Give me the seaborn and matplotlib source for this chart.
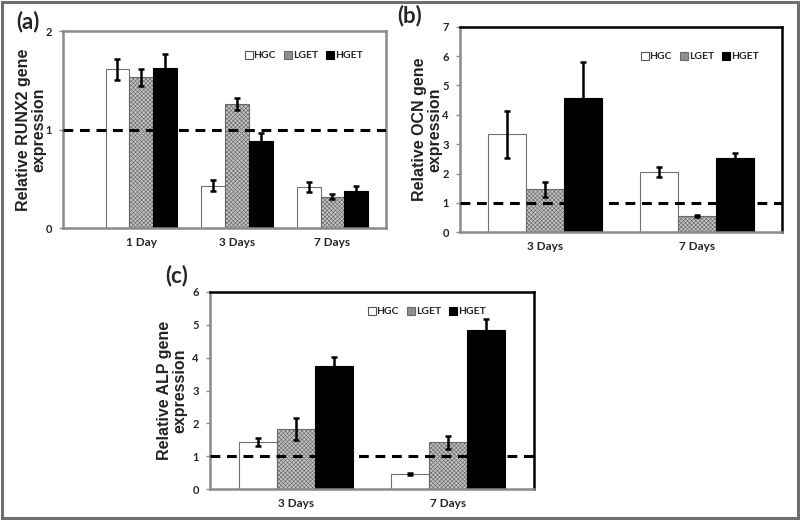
import matplotlib
matplotlib.use("Agg")
import matplotlib.pyplot as plt
from matplotlib.patches import Rectangle
from matplotlib.lines import Line2D
import seaborn as sns
import pandas as pd

# ---- data ----
groups = ["HGC", "LGET", "HGET"]

runx2_days = ["1 Day", "3 Days", "7 Days"]
runx2_hgc = [1.61, 0.43, 0.42]
runx2_lget = [1.53, 1.26, 0.32]
runx2_hget = [1.62, 0.89, 0.38]
runx2_hgc_err = [0.105, 0.055, 0.047]
runx2_lget_err = [0.085, 0.06, 0.025]
runx2_hget_err = [0.15, 0.08, 0.047]

ocn_days = ["3 Days", "7 Days"]
ocn_hgc = [3.34, 2.05]
ocn_lget = [1.46, 0.56]
ocn_hget = [4.58, 2.52]
ocn_hgc_err = [0.80, 0.17]
ocn_lget_err = [0.25, 0.04]
ocn_hget_err = [1.22, 0.17]

alp_days = ["3 Days", "7 Days"]
alp_hgc = [1.44, 0.47]
alp_lget = [1.83, 1.43]
alp_hget = [3.75, 4.83]
alp_hgc_err = [0.13, 0.03]
alp_lget_err = [0.33, 0.20]
alp_hget_err = [0.28, 0.35]

sns.set_style("white")
plt.rcParams["font.family"] = ["Lato", "DejaVu Sans"]
plt.rcParams["hatch.linewidth"] = 0.45

fig = plt.figure(figsize=(8, 5.2), dpi=100)
fig.patches.append(Rectangle((0.002, 0.003), 0.995, 0.993, transform=fig.transFigure,
                             fill=False, edgecolor="#6e6e6e", linewidth=2.2, zorder=10))

face = {"HGC": "white", "LGET": "#c4c4c4", "HGET": "black"}
edge = {"HGC": "#707070", "LGET": "#6a6a6a", "HGET": "black"}
hatch = {"HGC": None, "LGET": "xxxxxxxx", "HGET": None}


def panel(rect, days, vals, errs, ymax, ylabel, xlim, frame_color, letter, letter_xy,
          ylabel_x, legend_anchor):
    ax = fig.add_axes(rect)
    rows = []
    for g, v in zip(groups, vals):
        for d, y in zip(days, v):
            rows.append({"day": d, "group": g, "value": y})
    df = pd.DataFrame(rows)
    sns.barplot(data=df, x="day", y="value", hue="group", hue_order=groups,
                order=days, palette=face, width=0.75, errorbar=None,
                legend=False, ax=ax, zorder=2)
    for cont, g, e in zip(ax.containers, groups, errs):
        xs, ys = [], []
        for bar in cont:
            bar.set_facecolor(face[g])
            bar.set_edgecolor(edge[g])
            bar.set_linewidth(0.8)
            if hatch[g]:
                bar.set_hatch(hatch[g])
            xs.append(bar.get_x() + bar.get_width() / 2)
            ys.append(bar.get_height())
        ax.errorbar(xs, ys, yerr=e, fmt="none", ecolor="black", elinewidth=1.8,
                    capsize=2.5, capthick=1.8, zorder=4)
    ax.axhline(1, color="black", linestyle=(0, (3.2, 2.2)), linewidth=2.2, zorder=5)
    ax.set_ylim(0, ymax)
    ax.set_yticks(range(0, ymax + 1))
    ax.set_xlim(*xlim)
    ax.set_xlabel("")
    ax.set_ylabel(ylabel, fontsize=11.5, fontweight="bold", family=["Liberation Sans"],
                  color="#222222", linespacing=1.05)
    ax.yaxis.set_label_coords(ylabel_x, 0.5)
    for sp in ax.spines.values():
        sp.set_visible(True)
        sp.set_color(frame_color)
        sp.set_linewidth(1.8)
    ax.spines["left"].set_color("#8a8a8a")
    ax.spines["bottom"].set_color("#8a8a8a")
    ax.tick_params(axis="y", length=3, width=1, color="#8a8a8a", direction="out",
                   left=True, labelsize=8, pad=5)
    ax.tick_params(axis="x", length=0, labelsize=8.5, pad=6)
    for t in ax.get_yticklabels() + ax.get_xticklabels():
        t.set_fontweight("bold")
    handles = [Line2D([], [], marker="s", linestyle="none", markersize=5.5,
                      markerfacecolor=face[g], markeredgecolor="#555" if g == "HGC" else edge[g],
                      markeredgewidth=0.8, label=g) for g in groups]
    handles[1].set_markerfacecolor("#8f8f8f")
    ax.legend(handles=handles, ncol=3, frameon=False, loc="upper right",
              bbox_to_anchor=legend_anchor, bbox_transform=fig.transFigure,
              prop={"weight": "bold", "size": 7.5}, handlelength=0.6,
              handletextpad=0.15, columnspacing=0.9, borderaxespad=0)
    fig.text(letter_xy[0], letter_xy[1], letter, fontsize=16, fontweight="bold",
             ha="left", va="center")
    return ax


W, H = 800, 520

panel([63 / W, 1 - 228.3 / H, 323 / W, 197.3 / H], runx2_days,
      [runx2_hgc, runx2_lget, runx2_hget],
      [runx2_hgc_err, runx2_lget_err, runx2_hget_err], 2,
      "Relative RUNX2 gene\nexpression", (-0.82, 2.56), "#8a8a8a", "(a)",
      (16 / W, 1 - 22 / H), -0.05, (367 / W, 1 - 47 / H))

panel([460 / W, 1 - 232.3 / H, 322 / W, 205.6 / H], ocn_days,
      [ocn_hgc, ocn_lget, ocn_hget],
      [ocn_hgc_err, ocn_lget_err, ocn_hget_err], 7,
      "Relative OCN gene\nexpression", (-0.56, 1.56), "black", "(b)",
      (397 / W, 1 - 16 / H), -0.055, (763 / W, 1 - 48 / H))

panel([210 / W, 1 - 489.3 / H, 324 / W, 197.6 / H], alp_days,
      [alp_hgc, alp_lget, alp_hget],
      [alp_hgc_err, alp_lget_err, alp_hget_err], 6,
      "Relative ALP gene\nexpression", (-0.566, 1.566), "black", "(c)",
      (165 / W, 1 - 276 / H), -0.07, (490 / W, 1 - 303 / H))

fig.savefig("out.png", dpi=100)
